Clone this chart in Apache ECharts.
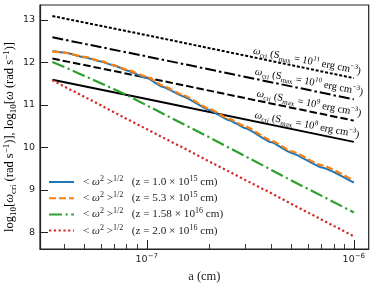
<!DOCTYPE html>
<html><head><meta charset="utf-8">
<script src="https://cdn.jsdelivr.net/npm/echarts@6/dist/echarts.min.js"></script>
<style>html,body{margin:0;padding:0;background:#fff}#c{width:374px;height:288px}</style>
</head><body><div id="c"></div>
<script>
// x values (grain size a, cm)
const aValues = [3.5e-8,4e-8,5e-8,6e-8,7e-8,8e-8,1e-7,1.2e-7,1.5e-7,2e-7,2.5e-7,3e-7,4e-7,5e-7,7e-7,1e-6];
// log10 <w^2>^1/2 for four distances
const omegaZ10e15  = [12.26,12.23,12.12,12.02,11.92,11.81,11.63,11.42,11.20,10.88,10.64,10.45,10.12,9.87,9.53,9.17];
const omegaZ53e15  = [12.26,12.23,12.13,12.03,11.93,11.83,11.66,11.45,11.23,10.91,10.67,10.49,10.16,9.91,9.58,9.22];
const omegaZ158e16 = [12.01,11.89,11.68,11.51,11.36,11.23,10.99,10.79,10.55,10.24,9.99,9.79,9.47,9.22,8.86,8.47];
const omegaZ20e16  = [11.58,11.43,11.19,10.99,10.82,10.67,10.43,10.23,9.99,9.67,9.43,9.23,8.92,8.67,8.30,7.91];
// log10 w_cri for four S_max
const aCrit = [3.5e-8, 1e-7, 1e-6];
const critS11 = [13.09, 12.64, 11.63];
const critS10 = [12.59, 12.14, 11.13];
const critS9  = [12.09, 11.64, 10.63];
const critS8  = [11.59, 11.14, 10.13];
// text pieces
const zMantissa = ['1.0','5.3','1.58','2.0'];
const zExponent = ['15','15','16','16'];
const sExponent = ['11','10','9','8'];
// ticks
const yTickValues = [8,9,10,11,12,13];
const xMajorTicks = [1e-7, 1e-6];
const xTickExponents = ['\u22127','\u22126'];
const xMinorTicks = [4e-8,5e-8,6e-8,7e-8,8e-8,9e-8,2e-7,3e-7,4e-7,5e-7,6e-7,7e-7,8e-7,9e-7];

const SERIF = 'Liberation Serif';
const zip = (xs, ys) => xs.map((x, i) => [x, ys[i]]);
const legendNames = ['z0','z1','z2','z3'];

const richSerif = (fs, lh) => ({
  n: {fontFamily: SERIF, fontSize: fs, lineHeight: lh, color: '#222'},
  i: {fontFamily: SERIF, fontStyle: 'italic', fontSize: fs, lineHeight: lh, color: '#222'},
  sup: {fontFamily: SERIF, fontSize: Math.round(fs*0.68), lineHeight: Math.round(fs*0.7), verticalAlign: 'top', color: '#222'},
  sub: {fontFamily: SERIF, fontSize: Math.round(fs*0.68), lineHeight: Math.round(fs*0.7), verticalAlign: 'bottom', color: '#222'}
});

const colored = [
  {name: 'z0', data: omegaZ10e15, color: '#1f77b4', type: 'solid', width: 2, smooth: 0.15},
  {name: 'z1', data: omegaZ53e15, color: '#ff7f0e', type: [7, 3], width: 2.2, smooth: 0.15},
  {name: 'z2', data: omegaZ158e16, color: '#2ca02c', type: [13, 3.5, 2.2, 3.5], width: 2.2, smooth: false},
  {name: 'z3', data: omegaZ20e16, color: '#d62728', type: [2.2, 2.6], width: 2.2, smooth: false}
];
const blacks = [
  {data: critS11, type: [3, 1.8]},
  {data: critS10, type: [11, 3, 2.5, 3]},
  {data: critS9, type: [7.5, 3]},
  {data: critS8, type: 'solid'}
];

const series = [];
blacks.forEach(b => series.push({
  type: 'line', data: zip(aCrit, b.data), symbol: 'none', silent: true,
  lineStyle: {color: '#000', width: 2, type: b.type}, z: 2
}));
colored.forEach(c => series.push({
  name: c.name, type: 'line', data: zip(aValues, c.data), symbol: 'none',
  smooth: c.smooth, smoothMonotone: 'x', itemStyle: {color: c.color},
  lineStyle: {color: c.color, width: c.width, type: c.type}, z: 3
}));

const chart = echarts.init(document.getElementById('c'), null, {renderer: 'canvas'});
const fmtX = v => {
  const k = Math.round(Math.log10(v));
  const idx = xMajorTicks.findIndex(t => Math.round(Math.log10(t)) === k);
  return '{n|10}{sup|' + xTickExponents[idx] + '}';
};
const labelRich = richSerif(10.5, 14);
const critLabels = sExponent.map((e, i) => ({
  type: 'text',
  x: [307, 309, 309, 307][i], y: [61, 82, 103.5, 125][i],
  rotation: -0.19,
  style: {
    text: '{i|\u03c9}{sub|cri}{n| (S}{sub|max}{n| = 10}{sup|' + e + '}{n| erg cm}{sup|\u22123}{n|)}',
    rich: labelRich, align: 'center', verticalAlign: 'middle'
  }
}));
const yNameRich = richSerif(12.5, 16);
chart.setOption({
  animation: false,
  backgroundColor: '#fff',
  grid: {left: 40, top: 5, right: 5.3, bottom: 37.3, show: true, borderColor: '#222', borderWidth: 1.2},
  xAxis: [{
    type: 'log', logBase: 10, min: 3.05e-8, max: 1.18e-6,
    axisLine: {show: true, lineStyle: {color: '#222', width: 1.2}},
    axisTick: {show: true, inside: true, length: 9, customValues: xMajorTicks, lineStyle: {color: '#222', width: 1}},
    axisLabel: {customValues: xMajorTicks, formatter: fmtX, margin: 4,
      rich: {n: {fontFamily: 'DejaVu Sans', fontSize: 9.5, color: '#222', lineHeight: 13},
             sup: {fontFamily: 'DejaVu Sans', fontSize: 7, color: '#222', verticalAlign: 'top', lineHeight: 8}}},
    splitLine: {show: false}, minorTick: {show: false},
    name: 'a (cm)', nameLocation: 'middle', nameGap: 21,
    nameTextStyle: {fontFamily: SERIF, fontSize: 12.5, color: '#222'}
  }, {
    type: 'log', logBase: 10, min: 3.05e-8, max: 1.18e-6, position: 'bottom',
    axisLine: {show: false},
    axisTick: {show: true, inside: true, length: 5, customValues: xMinorTicks, lineStyle: {color: '#222', width: 0.9}},
    axisLabel: {show: false}, splitLine: {show: false}
  }],
  yAxis: {
    type: 'value', min: 7.61, max: 13.35,
    axisLine: {show: true, lineStyle: {color: '#222', width: 1.2}},
    axisTick: {show: true, inside: true, length: 8, customValues: yTickValues, lineStyle: {color: '#222', width: 1}},
    axisLabel: {customValues: yTickValues, fontFamily: 'DejaVu Sans', fontSize: 9.5, color: '#222', margin: 5},
    splitLine: {show: false}
  },
  legend: {
    data: legendNames, orient: 'vertical', left: 48, top: 175, padding: 0,
    itemWidth: 25, itemHeight: 14, itemGap: 3.6,
    itemStyle: {opacity: 0},
    formatter: name => {
      const i = legendNames.indexOf(name);
      return '{n|< }{i|\u03c9}{sup|2}{n| >}{sup|1/2}{n|   (z = ' + zMantissa[i] + ' \u00d7 10}{sup|' + zExponent[i] + '}{n| cm)}';
    },
    textStyle: {padding: [0, 0, 0, 4], rich: richSerif(11.2, 14)}
  },
  graphic: [{
    type: 'text', x: 10, y: 137, rotation: Math.PI / 2,
    style: {
      text: '{n|log}{sub|10}{n|[}{i|\u03c9}{sub|cri}{n| (rad s}{sup|\u22121}{n|)], log}{sub|10}{n|[}{i|\u03c9}{n| (rad s}{sup|\u22121}{n|)]}',
      rich: yNameRich, align: 'center', verticalAlign: 'middle'
    }
  }].concat(critLabels),
  series: series
});
</script></body></html>
